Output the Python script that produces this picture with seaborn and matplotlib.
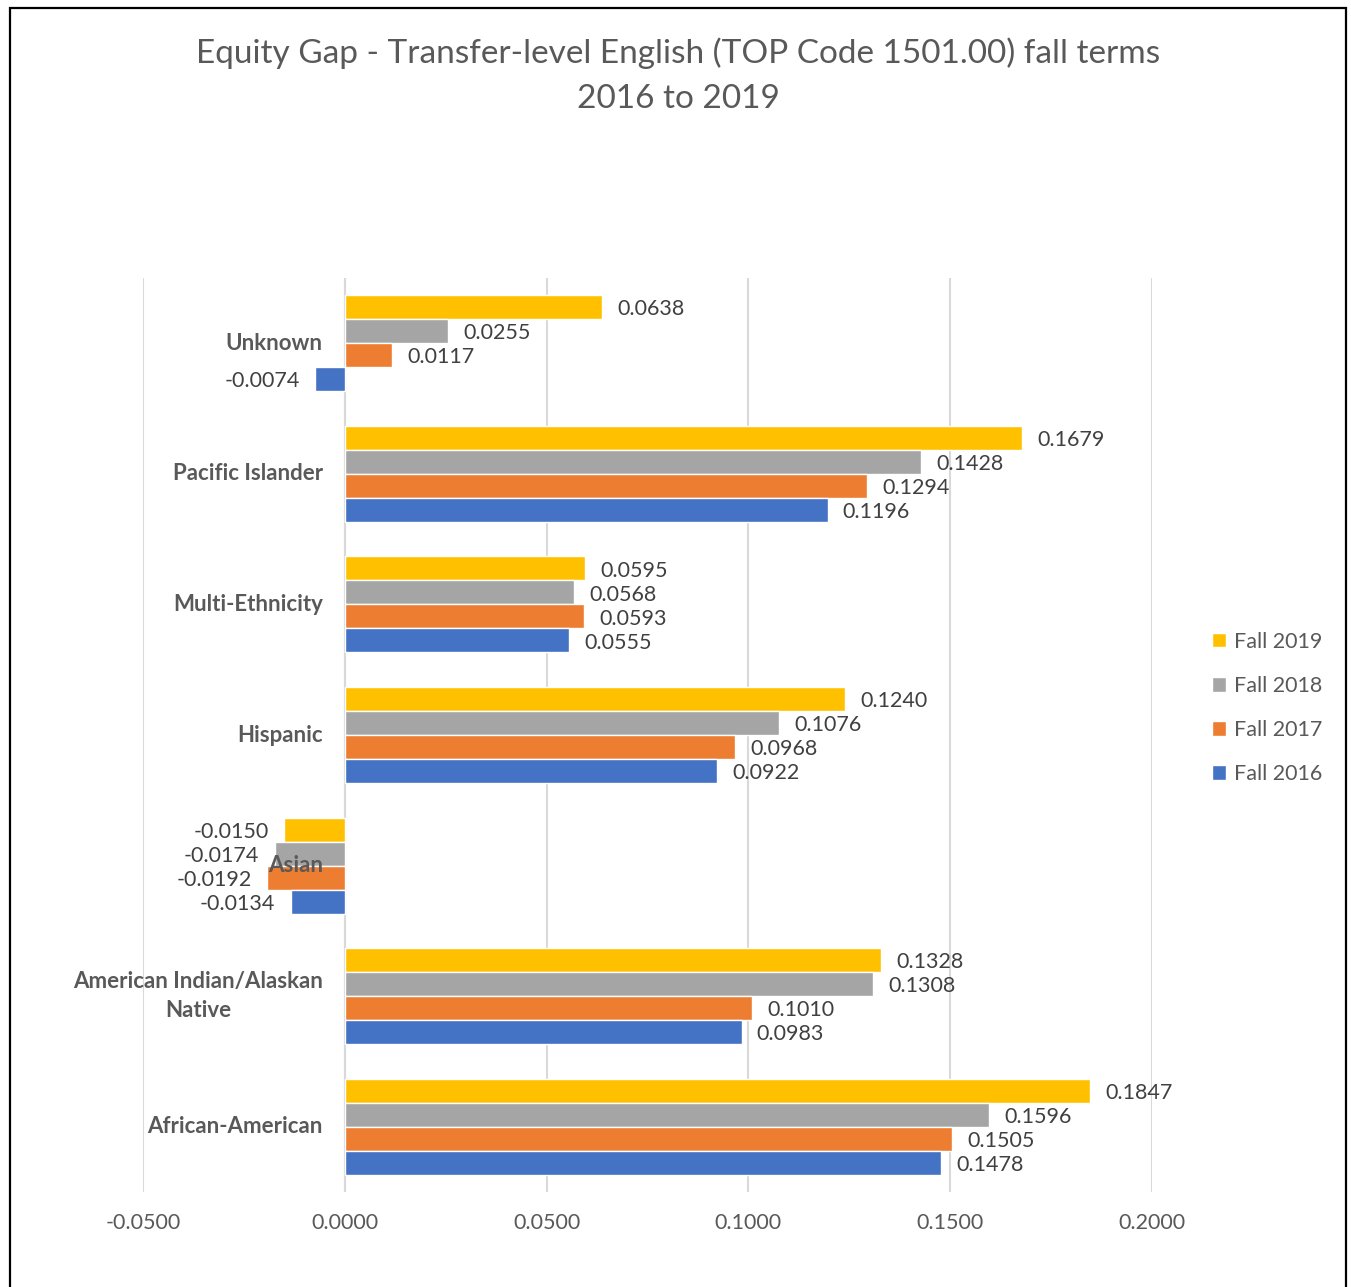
#!/usr/bin/env python3
"""Equity gap bar chart - transfer-level English, fall terms 2016 to 2019."""

import pandas as pd
import matplotlib
matplotlib.use("Agg")
import matplotlib.pyplot as plt
from matplotlib.patches import Rectangle
import seaborn as sns

groups = ["Unknown", "Pacific Islander", "Multi-Ethnicity", "Hispanic", "Asian",
          "American Indian/Alaskan\nNative", "African-American"]
terms = ["Fall 2019", "Fall 2018", "Fall 2017", "Fall 2016"]
fall_2019 = [0.0638, 0.1679, 0.0595, 0.1240, -0.0150, 0.1328, 0.1847]
fall_2018 = [0.0255, 0.1428, 0.0568, 0.1076, -0.0174, 0.1308, 0.1596]
fall_2017 = [0.0117, 0.1294, 0.0593, 0.0968, -0.0192, 0.1010, 0.1505]
fall_2016 = [-0.0074, 0.1196, 0.0555, 0.0922, -0.0134, 0.0983, 0.1478]
x_ticks = [-0.05, 0.0, 0.05, 0.10, 0.15, 0.20]

colors = {"Fall 2019": "#FFC000", "Fall 2018": "#A5A5A5",
          "Fall 2017": "#ED7D31", "Fall 2016": "#4472C4"}
TEXT = "#595959"


def build_frame() -> pd.DataFrame:
    rows = []
    for term, vals in zip(terms, [fall_2019, fall_2018, fall_2017, fall_2016]):
        for g, v in zip(groups, vals):
            rows.append({"group": g, "term": term, "gap": v})
    return pd.DataFrame(rows)


def main():
    df = build_frame()
    sns.set_style("white")
    plt.rcParams["font.family"] = ["Lato", "DejaVu Sans"]

    W, H = 1351, 1287
    fig = plt.figure(figsize=(W / 100, H / 100), dpi=100)
    ax = fig.add_axes([143 / W, 1 - 1192 / H, (1152 - 143) / W, (1192 - 278) / H])

    sns.barplot(data=df, y="group", x="gap", hue="term", order=groups,
                hue_order=terms, palette=colors, orient="h", width=0.735,
                ax=ax, legend=True, saturation=1, zorder=3)

    ax.set_xlim(-0.05, 0.2)
    ax.set_xticks(x_ticks)
    ax.set_xticklabels([f"{t:.4f}" for t in x_ticks], fontsize=15.5, color=TEXT)
    ax.tick_params(axis="x", length=0, pad=15)
    ax.grid(axis="x", color="#D9D9D9", linewidth=1.5, zorder=0)
    ax.axvline(0, color="#D9D9D9", linewidth=1.5, zorder=1)
    for s in ax.spines.values():
        s.set_visible(False)
    ax.set_yticks([])
    ax.set_xlabel("")
    ax.set_ylabel("")

    # category labels next to the zero line, like Excel does
    for i, g in enumerate(groups):
        ax.annotate(g, xy=(0, i), xytext=(-22, 0), textcoords="offset pixels",
                    ha="right", va="center", multialignment="center",
                    fontsize=16, fontweight="bold", color=TEXT, zorder=10,
                    linespacing=1.5)

    for cont in ax.containers:
        texts = ax.bar_label(cont, fmt="%.4f", padding=11, fontsize=15.5,
                             color="#404040")
        # nudge labels down a touch
        for t in texts:
            x_off, y_off = t.xyann
            t.xyann = (x_off, y_off - 1.5)

    handles, labels = ax.get_legend_handles_labels()
    ax.legend_.remove()
    fig.legend(handles, labels, loc="center left",
               bbox_to_anchor=(1193 / W, 1 - 708 / H), frameon=False,
               fontsize=15.5, handlelength=0.65, handleheight=0.65,
               handletextpad=0.35, labelspacing=1.12, labelcolor=TEXT)

    fig.text(678 / W, 1 - 53 / H, "Equity Gap - Transfer-level English (TOP Code 1501.00) fall terms",
             ha="center", va="center", fontsize=24, color=TEXT)
    fig.text(678 / W, 1 - 99 / H, "2016 to 2019",
             ha="center", va="center", fontsize=24, color=TEXT)

    fig.patches.append(Rectangle((10 / W, -0.05), (1346 - 10) / W, 1.05 - 8 / H,
                                 transform=fig.transFigure, fill=False,
                                 edgecolor="black", linewidth=1.6))

    fig.savefig("out.png", dpi=100)


if __name__ == "__main__":
    main()
